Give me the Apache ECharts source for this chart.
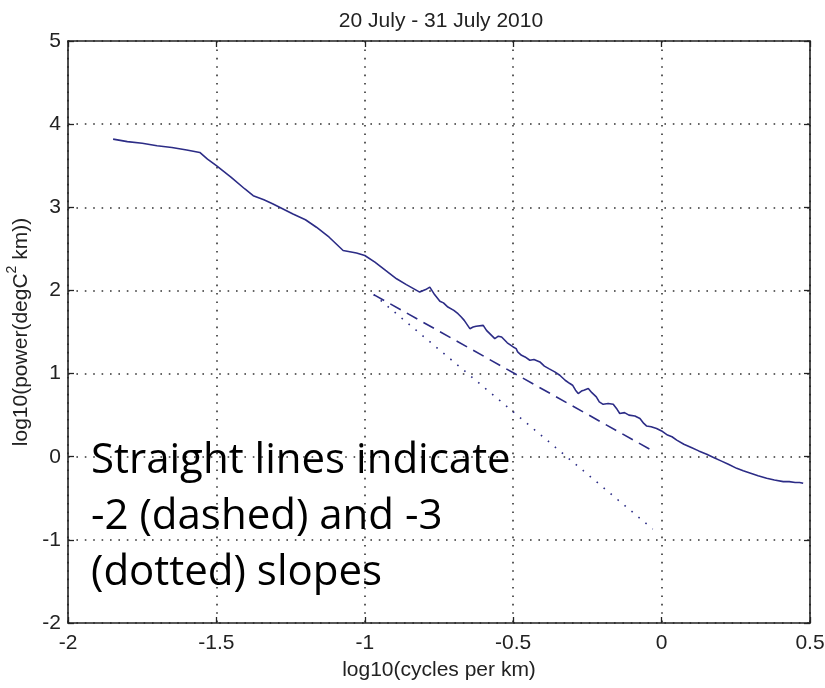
<!DOCTYPE html>
<html>
<head>
<meta charset="utf-8">
<script src="https://cdn.jsdelivr.net/npm/echarts@6/dist/echarts.min.js"></script>
<style>
html,body{margin:0;padding:0;background:#fff;}
#chart{width:825px;height:688px;}
</style>
</head>
<body>
<div id="chart"></div>
<script>
// ---- data ----
const titleText = '20 July - 31 July 2010';
const xAxisName = 'log10(cycles per km)';
const yAxisNameParts = ['log10(power(degC', '2', ' km))'];
const xTicks = [-2, -1.5, -1, -0.5, 0, 0.5];
const yTicks = [-2, -1, 0, 1, 2, 3, 4, 5];

// power spectrum (x = log10 cycles/km, y = log10 power)
const spectrumX = [-1.848,-1.80,-1.75,-1.70,-1.65,-1.60,-1.556,-1.53,-1.50,-1.45,-1.404,-1.376,-1.34,-1.309,-1.242,-1.20,-1.163,-1.12,-1.073,-1.028,-1.0,-0.966,-0.93,-0.893,-0.86,-0.815,-0.795,-0.781,-0.765,-0.747,-0.735,-0.72,-0.70,-0.686,-0.675,-0.665,-0.646,-0.635,-0.625,-0.601,-0.59,-0.585,-0.562,-0.55,-0.539,-0.52,-0.50,-0.49,-0.485,-0.472,-0.46,-0.444,-0.43,-0.41,-0.395,-0.38,-0.36,-0.343,-0.325,-0.309,-0.30,-0.29,-0.281,-0.27,-0.262,-0.247,-0.235,-0.22,-0.21,-0.197,-0.18,-0.163,-0.15,-0.141,-0.125,-0.11,-0.09,-0.073,-0.06,-0.051,-0.035,-0.017,0.0,0.02,0.035,0.051,0.075,0.10,0.125,0.152,0.175,0.20,0.225,0.253,0.275,0.30,0.325,0.354,0.38,0.41,0.43,0.45,0.465,0.477];
const spectrumY = [3.82,3.79,3.77,3.74,3.72,3.69,3.66,3.58,3.50,3.36,3.22,3.14,3.09,3.04,2.92,2.85,2.76,2.64,2.48,2.45,2.42,2.34,2.24,2.14,2.07,1.98,2.01,2.04,1.95,1.87,1.85,1.80,1.76,1.72,1.68,1.64,1.54,1.56,1.57,1.58,1.52,1.50,1.42,1.45,1.44,1.37,1.32,1.30,1.26,1.22,1.20,1.16,1.17,1.14,1.09,1.06,1.02,0.98,0.92,0.88,0.86,0.80,0.76,0.79,0.80,0.82,0.77,0.72,0.66,0.63,0.64,0.63,0.57,0.52,0.53,0.50,0.49,0.46,0.40,0.37,0.36,0.34,0.31,0.26,0.24,0.20,0.15,0.11,0.07,0.03,-0.01,-0.05,-0.09,-0.14,-0.17,-0.20,-0.23,-0.26,-0.28,-0.30,-0.30,-0.31,-0.31,-0.32];

// reference slope lines (endpoints)
const dashedX = [-0.97, -0.04];
const dashedY = [1.95, 0.09];
const dottedX = [-0.97, -0.03];
const dottedY = [1.95, -0.87];

const noteLines = ['Straight lines indicate', '-2 (dashed) and -3', '(dotted) slopes'];

// ---- chart ----
const zip = (xs, ys) => xs.map((x, i) => [x, ys[i]]);
const lineColor = '#2c2c86';
const axisFont = '"Liberation Sans", Arial, sans-serif';
const axisColor = '#222';
const fs = 21;

const chart = echarts.init(document.getElementById('chart'), null, {renderer: 'canvas'});

const baseX = {
  type: 'value', min: -2, max: 0.5, interval: 0.5,
  axisLine: {show: true, onZero: false, lineStyle: {color: axisColor, width: 1.6}},
  axisTick: {show: true, inside: true, length: 6, lineStyle: {color: axisColor, width: 1.3}},
};
const baseY = {
  type: 'value', min: -2, max: 5, interval: 1,
  axisLine: {show: true, onZero: false, lineStyle: {color: axisColor, width: 1.6}},
  axisTick: {show: true, inside: true, length: 6, lineStyle: {color: axisColor, width: 1.3}},
};
const gridLine = {show: true, lineStyle: {color: '#333', width: 1.6, type: [1.6, 6.8]}};

chart.setOption({
  animation: false,
  backgroundColor: '#ffffff',
  title: {
    text: titleText, left: 436, top: 6, textAlign: 'center',
    textStyle: {fontFamily: axisFont, fontSize: fs, fontWeight: 'normal', color: '#222'}
  },
  grid: {left: 68, right: 15, top: 41, bottom: 65, containLabel: false, outerBoundsMode: 'none'},
  xAxis: [
    Object.assign({}, baseX, {
      position: 'bottom',
      name: xAxisName, nameLocation: 'middle', nameGap: 37,
      nameTextStyle: {fontFamily: axisFont, fontSize: fs, color: '#222'},
      axisLabel: {fontFamily: axisFont, fontSize: fs, color: '#222', margin: 10,
        formatter: v => String(v)},
      splitLine: gridLine
    }),
    Object.assign({}, baseX, {
      position: 'top', axisLabel: {show: false}, splitLine: {show: false}
    })
  ],
  yAxis: [
    Object.assign({}, baseY, {
      position: 'left',
      name: '{n|' + yAxisNameParts[0] + '}{s|' + yAxisNameParts[1] + '}{n|' + yAxisNameParts[2] + '}',
      nameLocation: 'middle', nameGap: 35, nameRotate: 90,
      nameTextStyle: {
        fontFamily: axisFont, fontSize: fs, color: '#222',
        rich: {
          n: {fontFamily: axisFont, fontSize: fs, color: '#222', verticalAlign: 'bottom', lineHeight: 26},
          s: {fontFamily: axisFont, fontSize: 14, color: '#222', verticalAlign: 'top', lineHeight: 26}
        }
      },
      axisLabel: {fontFamily: axisFont, fontSize: fs, color: '#222', margin: 7},
      splitLine: gridLine
    }),
    Object.assign({}, baseY, {
      position: 'right', axisLabel: {show: false}, splitLine: {show: false}
    })
  ],
  series: [
    {
      type: 'line', data: zip(spectrumX, spectrumY), showSymbol: false, symbol: 'none',
      lineStyle: {color: lineColor, width: 1.6}, z: 5
    },
    {
      type: 'line', data: zip(dashedX, dashedY), showSymbol: false, symbol: 'none',
      lineStyle: {color: lineColor, width: 1.6, type: [12, 7]}, z: 4
    },
    {
      type: 'line', data: zip(dottedX, dottedY), showSymbol: false, symbol: 'none',
      lineStyle: {color: lineColor, width: 1.6, type: [1.6, 7.5]}, z: 4
    }
  ],
  graphic: [{
    type: 'text', left: 91, top: 433, z: 10,
    style: {
      text: noteLines.join('\n'),
      font: '42px "Open Sans", "Noto Sans", sans-serif',
      lineHeight: 56, fill: '#000'
    }
  }]
});
</script>
</body>
</html>
